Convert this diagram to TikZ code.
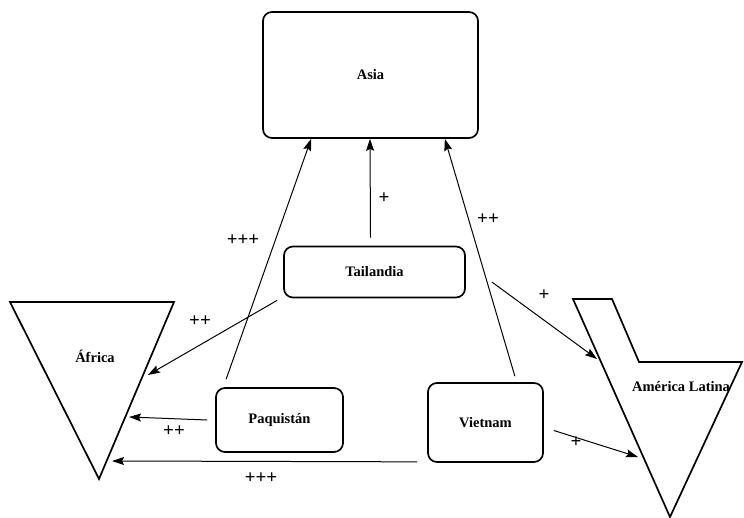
\documentclass[tikz,border=0pt]{standalone}
\usepackage{fontspec}
\setmainfont{Liberation Serif}
\usetikzlibrary{arrows.meta}
\newcommand{\pl}[1]{\fontsize{19}{19}\selectfont\bfseries #1}

\begin{document}
\begin{tikzpicture}[x=1pt, y=-1pt,
        box/.style={draw, line width=1.7pt, rounded corners=9pt, inner sep=0pt},
        link/.style={line width=1pt, -{Stealth[length=12pt, width=8pt, inset=2pt]}},
        txt/.style={font=\fontsize{14.5}{14.5}\selectfont\bfseries}]

                    \useasboundingbox (0, 0) rectangle (744, 518);

                    \node [box, txt, minimum width=215, minimum height=126] (asia) at (370.5, 75) {Asia};
                    \node [box, txt, minimum width=181, minimum height=51] (tailandia) at (374.5, 272) {Tailandia};
                    \node [box, txt, minimum width=127, minimum height=64] (paquistan) at (279.5, 420) {Paquistán};
                    \node [box, txt, minimum width=115, minimum height=79] (vietnam) at (485.5, 422.5) {Vietnam};

                    \draw [line width=1.7pt, line join=miter] (10, 302) -- (174, 302) -- (99, 479) -- cycle;
                    \node [txt] (africa) at (95, 356) {África};

                    \draw [line width=1.7pt, line join=miter] (573, 299) -- (612, 299) -- (639, 362)
                        -- (742, 362) -- (670, 517) -- cycle;
                    \node [txt] (america) at (681, 387) {América Latina};

                    \coordinate (af1) at (148, 375);
                    \coordinate (af2) at (129, 417);
                    \coordinate (af3) at (112, 461);
                    \coordinate (am1) at (597, 359);
                    \coordinate (am2) at (638, 457);

                    \draw [link] ([xshift=8]paquistan.north west) ++(3, -8) -- ([xshift=49]asia.south west);
                    \draw [link] (tailandia.north) ++(-4, -8) -- ([xshift=-0.5]asia.south);
                    \draw [link] ([xshift=-27]vietnam.north east) ++(-2, -6) -- ([xshift=-34]asia.south east);
                    \draw [link] ([yshift=-2]tailandia.south west) ++(-6, 0) -- (af1);
                    \draw [link] ([xshift=-8]paquistan.west) -- (af2);
                    \draw [link] ([xshift=-10, yshift=1]vietnam.south west) -- (af3);
                    \draw [link] ([yshift=-10]tailandia.east) ++(26, 0) -- (am1);
                    \draw [link] ([xshift=10, yshift=-8]vietnam.east) -- (am2);

                    \node (l1) at (243, 240) {\pl{+++}};
                    \node (l2) at (384, 198) {\pl{+}};
                    \node (l3) at (488, 219) {\pl{++}};
                    \node (l4) at (200, 321) {\pl{++}};
                    \node (l5) at (174, 431) {\pl{++}};
                    \node (l6) at (261, 478) {\pl{+++}};
                    \node (l7) at (544, 295) {\pl{+}};
                    \node (l8) at (576, 442) {\pl{+}};
                \end{tikzpicture}
\end{document}
